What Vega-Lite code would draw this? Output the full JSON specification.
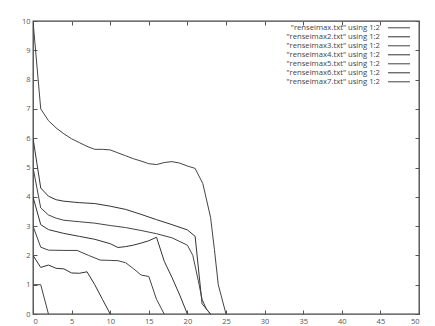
{
  "$schema": "https://vega.github.io/schema/vega-lite/v6.json",
  "width": 386,
  "height": 293,
  "autosize": {"type": "none"},
  "padding": {"left": 33, "top": 21, "right": 16, "bottom": 12},
  "background": "white",
  "config": {
    "view": {"stroke": "#444", "strokeWidth": 1.3},
    "font": "Open Sans",
    "axis": {
      "grid": false,
      "domain": false,
      "tickColor": "#555",
      "tickSize": -4,
      "labelColor": "#555",
      "labelFontSize": 7.5,
      "labelFont": "Open Sans",
      "title": null
    }
  },
  "data": {
    "values": [
      {"s": "\"renseimax.txt\" using 1:2", "x": 0, "y": 10},
      {"s": "\"renseimax.txt\" using 1:2", "x": 1, "y": 7},
      {"s": "\"renseimax.txt\" using 1:2", "x": 2, "y": 6.6},
      {"s": "\"renseimax.txt\" using 1:2", "x": 3, "y": 6.35},
      {"s": "\"renseimax.txt\" using 1:2", "x": 4, "y": 6.15},
      {"s": "\"renseimax.txt\" using 1:2", "x": 5, "y": 5.98},
      {"s": "\"renseimax.txt\" using 1:2", "x": 6, "y": 5.85},
      {"s": "\"renseimax.txt\" using 1:2", "x": 7, "y": 5.72},
      {"s": "\"renseimax.txt\" using 1:2", "x": 8, "y": 5.62},
      {"s": "\"renseimax.txt\" using 1:2", "x": 9, "y": 5.62},
      {"s": "\"renseimax.txt\" using 1:2", "x": 10, "y": 5.6},
      {"s": "\"renseimax.txt\" using 1:2", "x": 11, "y": 5.5},
      {"s": "\"renseimax.txt\" using 1:2", "x": 12, "y": 5.4},
      {"s": "\"renseimax.txt\" using 1:2", "x": 13, "y": 5.3},
      {"s": "\"renseimax.txt\" using 1:2", "x": 14, "y": 5.22},
      {"s": "\"renseimax.txt\" using 1:2", "x": 15, "y": 5.13},
      {"s": "\"renseimax.txt\" using 1:2", "x": 16, "y": 5.1},
      {"s": "\"renseimax.txt\" using 1:2", "x": 17, "y": 5.17},
      {"s": "\"renseimax.txt\" using 1:2", "x": 18, "y": 5.2},
      {"s": "\"renseimax.txt\" using 1:2", "x": 19, "y": 5.15},
      {"s": "\"renseimax.txt\" using 1:2", "x": 20, "y": 5.05},
      {"s": "\"renseimax.txt\" using 1:2", "x": 21, "y": 4.97},
      {"s": "\"renseimax.txt\" using 1:2", "x": 22, "y": 4.45},
      {"s": "\"renseimax.txt\" using 1:2", "x": 23, "y": 3.3},
      {"s": "\"renseimax.txt\" using 1:2", "x": 23.5, "y": 2.2},
      {"s": "\"renseimax.txt\" using 1:2", "x": 24, "y": 1.0},
      {"s": "\"renseimax.txt\" using 1:2", "x": 25, "y": 0},

      {"s": "\"renseimax2.txt\" using 1:2", "x": 0, "y": 6},
      {"s": "\"renseimax2.txt\" using 1:2", "x": 1, "y": 4.3},
      {"s": "\"renseimax2.txt\" using 1:2", "x": 2, "y": 4.02},
      {"s": "\"renseimax2.txt\" using 1:2", "x": 3, "y": 3.9},
      {"s": "\"renseimax2.txt\" using 1:2", "x": 4, "y": 3.85},
      {"s": "\"renseimax2.txt\" using 1:2", "x": 6, "y": 3.8},
      {"s": "\"renseimax2.txt\" using 1:2", "x": 8, "y": 3.77},
      {"s": "\"renseimax2.txt\" using 1:2", "x": 10, "y": 3.68},
      {"s": "\"renseimax2.txt\" using 1:2", "x": 12, "y": 3.57},
      {"s": "\"renseimax2.txt\" using 1:2", "x": 14, "y": 3.4},
      {"s": "\"renseimax2.txt\" using 1:2", "x": 16, "y": 3.22},
      {"s": "\"renseimax2.txt\" using 1:2", "x": 18, "y": 3.05},
      {"s": "\"renseimax2.txt\" using 1:2", "x": 20, "y": 2.87},
      {"s": "\"renseimax2.txt\" using 1:2", "x": 21, "y": 2.65},
      {"s": "\"renseimax2.txt\" using 1:2", "x": 21.9, "y": 0.35},
      {"s": "\"renseimax2.txt\" using 1:2", "x": 23, "y": 0},

      {"s": "\"renseimax3.txt\" using 1:2", "x": 0, "y": 5},
      {"s": "\"renseimax3.txt\" using 1:2", "x": 1, "y": 3.62},
      {"s": "\"renseimax3.txt\" using 1:2", "x": 2, "y": 3.38},
      {"s": "\"renseimax3.txt\" using 1:2", "x": 3, "y": 3.27},
      {"s": "\"renseimax3.txt\" using 1:2", "x": 4, "y": 3.2},
      {"s": "\"renseimax3.txt\" using 1:2", "x": 6, "y": 3.15},
      {"s": "\"renseimax3.txt\" using 1:2", "x": 8, "y": 3.1},
      {"s": "\"renseimax3.txt\" using 1:2", "x": 10, "y": 3.02},
      {"s": "\"renseimax3.txt\" using 1:2", "x": 12, "y": 2.95},
      {"s": "\"renseimax3.txt\" using 1:2", "x": 14, "y": 2.85},
      {"s": "\"renseimax3.txt\" using 1:2", "x": 16, "y": 2.74},
      {"s": "\"renseimax3.txt\" using 1:2", "x": 18, "y": 2.6},
      {"s": "\"renseimax3.txt\" using 1:2", "x": 20, "y": 2.35},
      {"s": "\"renseimax3.txt\" using 1:2", "x": 20.7, "y": 2.0},
      {"s": "\"renseimax3.txt\" using 1:2", "x": 21.4, "y": 1.15},
      {"s": "\"renseimax3.txt\" using 1:2", "x": 21.9, "y": 0.5},
      {"s": "\"renseimax3.txt\" using 1:2", "x": 22.5, "y": 0.15},
      {"s": "\"renseimax3.txt\" using 1:2", "x": 23, "y": 0},

      {"s": "\"renseimax4.txt\" using 1:2", "x": 0, "y": 4},
      {"s": "\"renseimax4.txt\" using 1:2", "x": 1, "y": 3.05},
      {"s": "\"renseimax4.txt\" using 1:2", "x": 2, "y": 2.88},
      {"s": "\"renseimax4.txt\" using 1:2", "x": 4, "y": 2.75},
      {"s": "\"renseimax4.txt\" using 1:2", "x": 6, "y": 2.65},
      {"s": "\"renseimax4.txt\" using 1:2", "x": 8, "y": 2.55},
      {"s": "\"renseimax4.txt\" using 1:2", "x": 10, "y": 2.4},
      {"s": "\"renseimax4.txt\" using 1:2", "x": 11, "y": 2.27},
      {"s": "\"renseimax4.txt\" using 1:2", "x": 12, "y": 2.3},
      {"s": "\"renseimax4.txt\" using 1:2", "x": 13, "y": 2.35},
      {"s": "\"renseimax4.txt\" using 1:2", "x": 14, "y": 2.42},
      {"s": "\"renseimax4.txt\" using 1:2", "x": 15, "y": 2.5},
      {"s": "\"renseimax4.txt\" using 1:2", "x": 16, "y": 2.62},
      {"s": "\"renseimax4.txt\" using 1:2", "x": 17, "y": 1.8},
      {"s": "\"renseimax4.txt\" using 1:2", "x": 18, "y": 1.25},
      {"s": "\"renseimax4.txt\" using 1:2", "x": 19, "y": 0.65},
      {"s": "\"renseimax4.txt\" using 1:2", "x": 20, "y": 0},

      {"s": "\"renseimax5.txt\" using 1:2", "x": 0, "y": 3},
      {"s": "\"renseimax5.txt\" using 1:2", "x": 1, "y": 2.28},
      {"s": "\"renseimax5.txt\" using 1:2", "x": 2, "y": 2.18},
      {"s": "\"renseimax5.txt\" using 1:2", "x": 4, "y": 2.17},
      {"s": "\"renseimax5.txt\" using 1:2", "x": 5.7, "y": 2.17},
      {"s": "\"renseimax5.txt\" using 1:2", "x": 7.2, "y": 2.0},
      {"s": "\"renseimax5.txt\" using 1:2", "x": 8.7, "y": 1.84},
      {"s": "\"renseimax5.txt\" using 1:2", "x": 10, "y": 1.83},
      {"s": "\"renseimax5.txt\" using 1:2", "x": 11, "y": 1.82},
      {"s": "\"renseimax5.txt\" using 1:2", "x": 12, "y": 1.75},
      {"s": "\"renseimax5.txt\" using 1:2", "x": 13, "y": 1.55},
      {"s": "\"renseimax5.txt\" using 1:2", "x": 14, "y": 1.33},
      {"s": "\"renseimax5.txt\" using 1:2", "x": 15, "y": 1.28},
      {"s": "\"renseimax5.txt\" using 1:2", "x": 16, "y": 0.5},
      {"s": "\"renseimax5.txt\" using 1:2", "x": 17, "y": 0},

      {"s": "\"renseimax6.txt\" using 1:2", "x": 0, "y": 2},
      {"s": "\"renseimax6.txt\" using 1:2", "x": 1, "y": 1.59},
      {"s": "\"renseimax6.txt\" using 1:2", "x": 2, "y": 1.67},
      {"s": "\"renseimax6.txt\" using 1:2", "x": 3, "y": 1.56},
      {"s": "\"renseimax6.txt\" using 1:2", "x": 4, "y": 1.54},
      {"s": "\"renseimax6.txt\" using 1:2", "x": 5, "y": 1.4},
      {"s": "\"renseimax6.txt\" using 1:2", "x": 6, "y": 1.39},
      {"s": "\"renseimax6.txt\" using 1:2", "x": 7, "y": 1.44},
      {"s": "\"renseimax6.txt\" using 1:2", "x": 8, "y": 1.0},
      {"s": "\"renseimax6.txt\" using 1:2", "x": 9, "y": 0.5},
      {"s": "\"renseimax6.txt\" using 1:2", "x": 10, "y": 0},

      {"s": "\"renseimax7.txt\" using 1:2", "x": 0, "y": 1},
      {"s": "\"renseimax7.txt\" using 1:2", "x": 1, "y": 1},
      {"s": "\"renseimax7.txt\" using 1:2", "x": 2, "y": 0}
    ]
  },
  "layer": [
    {
      "mark": {"type": "line", "strokeWidth": 1, "clip": true},
      "encoding": {
        "x": {"field": "x", "type": "quantitative",
              "scale": {"domain": [0, 50], "nice": false},
              "axis": {"orient": "bottom", "values": [0,5,10,15,20,25,30,35,40,45,50], "labelPadding": 7}},
        "y": {"field": "y", "type": "quantitative",
              "scale": {"domain": [0, 10], "nice": false},
              "axis": {"orient": "left", "values": [0,1,2,3,4,5,6,7,8,9,10], "labelPadding": 7}},
        "color": {"field": "s", "type": "nominal",
                  "scale": {"range": ["#444", "#333", "#444", "#333", "#444", "#333", "#444"]},
                  "legend": {
                    "title": null,
                    "orient": "none",
                    "legendX": 361.5,
                    "legendY": 2.3,
                    "padding": 0,
                    "symbolType": "M-2.75,0H2.75",
                    "symbolSize": 64,
                    "symbolStrokeWidth": 1,
                    "labelAlign": "right",
                    "labelOffset": -23.5,
                    "labelFontSize": 7.7,
                    "labelFont": "Open Sans",
                    "labelColor": "#444",
                    "labelLimit": 200,
                    "rowPadding": -0.7
                  }},
        "detail": {"field": "s"}
      }
    },
    {
      "mark": {"type": "line", "strokeOpacity": 0},
      "encoding": {
        "x": {"field": "x", "type": "quantitative",
              "scale": {"domain": [0, 50], "nice": false},
              "axis": {"orient": "top", "values": [0,5,10,15,20,25,30,35,40,45,50], "labels": false}},
        "y": {"field": "y", "type": "quantitative",
              "scale": {"domain": [0, 10], "nice": false},
              "axis": {"orient": "right", "values": [0,1,2,3,4,5,6,7,8,9,10], "labels": false}},
        "detail": {"field": "s"}
      }
    }
  ],
  "resolve": {"axis": {"x": "independent", "y": "independent"}}
}
